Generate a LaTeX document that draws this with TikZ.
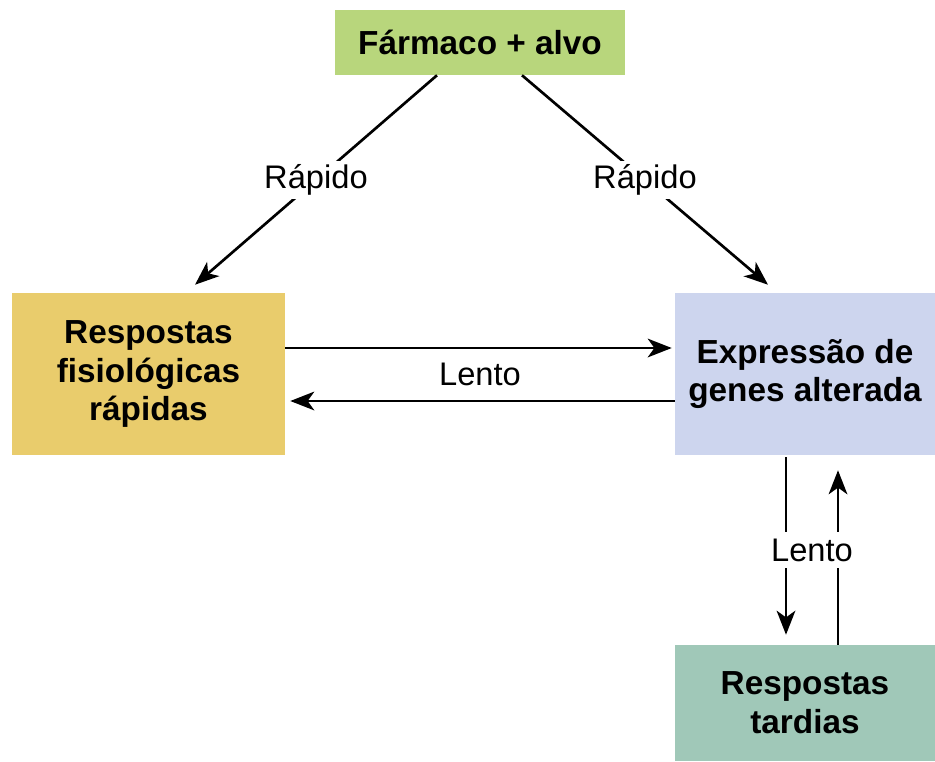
\documentclass[tikz,border=0pt]{standalone}
\usepackage{fontspec}
\setmainfont{Liberation Sans}
\usepackage{tikz}
\usetikzlibrary{arrows.meta,positioning,calc}
\definecolor{fgreen}{RGB}{184,214,124}
\definecolor{fyellow}{RGB}{233,204,108}
\definecolor{flilac}{RGB}{205,213,238}
\definecolor{fteal}{RGB}{160,200,184}
\tikzstyle{box} = [inner sep=0pt, align=center, font=\bfseries\fontsize{25}{29}\selectfont]
\tikzstyle{conn} = [line width=2pt, -{Stealth[length=18pt,width=14pt,inset=5pt]}]
\tikzstyle{lbl} = [fill=white, inner sep=3pt, font=\fontsize{24.5}{29}\selectfont]

\begin{document}
\begin{tikzpicture}[x=0.75pt, y=-0.75pt]
\useasboundingbox (0,0) rectangle (935,761);

% Boxes (sizes in pt)
\node[box, fill=fgreen, minimum width=217.5pt, minimum height=48.75pt] (drug) at (480,42.5) {Fármaco + alvo};
\node[box, fill=fyellow, minimum width=204.75pt, minimum height=121.5pt] (fast) at (148.5,374) {Respostas\\fisiológicas\\rápidas};
\node[box, fill=flilac, minimum width=195pt, minimum height=121.5pt] (genes) at (805,374) {Expressão de\\genes alterada};
\node[box, fill=fteal, minimum width=195pt, minimum height=87pt] (late) at (805,703) {Respostas\\tardias};

% Fast paths
\draw[conn] ($(drug.south)+(-43,0)$) -- node[lbl] {Rápido} ($(fast.north)+(46.5,-8)$);
\draw[conn] ($(drug.south)+(42,0)$) -- node[lbl] {Rápido} ($(genes.north)+(-37,-8)$);

% Slow paths
\draw[conn] ($(fast.east)+(0,-26)$) -- ($(genes.west)+(-3,-26)$);
\draw[conn] ($(genes.west)+(0,27)$) -- ($(fast.east)+(5,27)$);
\node[lbl, fill=none] (slowh) at ($(fast.east)!0.5!(genes.west)$) {Lento};

\draw[conn] ($(genes.south)+(-19,2)$) -- ($(late.north)+(-19,-10)$);
\draw[conn] ($(late.north)+(33,0)$) -- ($(genes.south)+(33,15)$);
\node[lbl, inner xsep=1pt, inner ysep=5pt] (slowv) at (812,550) {Lento};
\end{tikzpicture}
\end{document}
